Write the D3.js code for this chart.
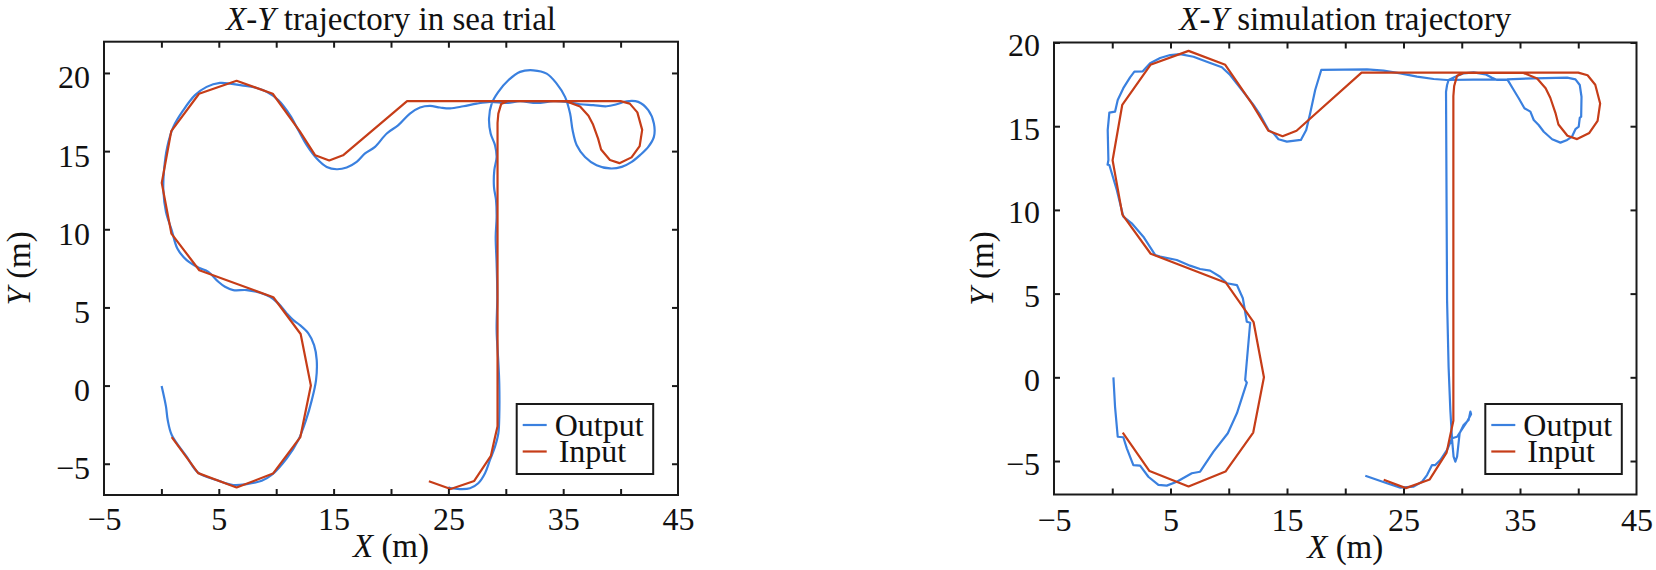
<!DOCTYPE html>
<html><head><meta charset="utf-8">
<script src="https://cdn.jsdelivr.net/npm/d3@7"></script>
<style>
html,body{margin:0;padding:0;background:#fff;}
svg{display:block;}
text{font-family:"Liberation Serif","Times New Roman",Tinos,"DejaVu Serif",serif;fill:#111;}
</style></head>
<body>
<svg id="chart" width="1656" height="570"></svg>
<script>
// ---------- data ----------
const xTickMarks = [0, 5, 10, 15, 20, 25, 30, 35, 40];
const xTickLabels = [-5, 5, 15, 25, 35, 45];
const yTicksSea = [-5, 0, 5, 10, 15, 20];
const yTicksSim = [-5, 0, 5, 10, 15, 20];
const seriesNames = ["Output", "Input"];
const titles = ["trajectory in sea trial", "simulation trajectory"];

// reference (input) path, shared by both panels
const inputXY = [[0.9,-3.3],[3.2,-5.6],[6.55,-6.52],[9.72,-5.63],[12.1,-3.3],[13.02,0],[12.13,3.3],[9.75,5.65],[3.3,7.38],[0.87,9.72],[0.03,12.97],[0.86,16.28],[3.28,18.67],[6.55,19.5],[9.7,18.67],[12.03,16.3],[13.4,14.73],[14.62,14.4],[15.82,14.73],[21.4,18.2],[40.0,18.2],[40.8,18.04],[41.46,17.48],[41.88,16.36],[41.66,15.32],[40.95,14.6],[39.9,14.23],[39.07,14.43],[38.3,15.1],[38.04,15.8],[37.6,16.7],[37.2,17.27],[36.47,17.85],[35.3,18.18],[30.2,18.2],[29.6,18.02],[29.35,17.4],[29.28,16.8],[29.28,-2.6],[29.0,-3.5],[28.7,-4.5],[27.25,-6.1],[25.2,-6.62],[23.3,-6.12]];

// sea-trial output path
const outputSea = [[0.02,-0.03],[0.4,-1.35],[0.55,-2.2],[0.9,-3.16],[2.2,-4.55],[3.2,-5.57],[4.8,-6.04],[6.26,-6.36],[7.43,-6.3],[8.74,-6.09],[9.6,-5.72],[10.92,-4.65],[11.93,-3.48],[12.6,-2.2],[13.1,-0.93],[13.47,0.35],[13.53,1.63],[13.3,2.59],[12.8,3.34],[12.07,3.87],[11.49,4.19],[10.92,4.62],[10.18,5.26],[9.46,5.68],[8.59,5.94],[7.43,6.11],[6.26,6.11],[5.54,6.32],[4.96,6.64],[4.09,7.28],[3.21,7.56],[2.2,8.03],[1.39,8.77],[0.9,9.94],[0.4,11.11],[0.17,12.5],[0.23,13.78],[0.51,15.27],[1.04,16.55],[1.91,17.62],[2.93,18.58],[3.94,19.11],[5.1,19.36],[5.98,19.32],[6.99,19.21],[8.15,19.07],[9.17,18.79],[10.18,18.26],[11.2,17.3],[11.93,16.34],[12.66,15.38],[13.53,14.53],[14.4,13.99],[15.27,13.84],[16.14,13.95],[17.01,14.31],[17.74,14.85],[18.61,15.27],[19.63,16.13],[20.64,16.66],[21.65,17.4],[22.53,17.79],[23.4,17.89],[24.27,17.79],[25.14,17.73],[26.3,17.87],[27.46,18.04],[28.62,18.15],[30.07,18.08],[31.24,18.19],[32.69,18.08],[34.14,18.19],[35.3,18.15],[36.46,18.0],[37.62,17.94],[38.79,17.87],[39.66,18.0],[40.53,18.19],[41.54,18.15],[42.41,17.62],[42.9,16.77],[42.9,15.91],[42.41,15.27],[41.69,14.74],[40.97,14.31],[40.1,13.99],[39.08,13.89],[37.91,14.1],[36.9,14.63],[36.18,15.38],[35.82,16.34],[35.6,17.4],[35.16,18.47],[34.43,19.32],[33.56,19.96],[32.4,20.17],[31.24,20.07],[30.22,19.53],[29.35,18.79],[28.77,18.04],[28.54,17.09],[28.68,16.13],[29.06,15.38],[29.2,14.63],[29.0,13.78],[28.97,12.71],[29.15,11.86],[29.2,10.79],[29.12,9.51],[29.2,7.81],[29.26,5.68],[29.2,3.55],[29.35,1.5],[29.43,0.14],[29.43,-2.0],[29.35,-3.06],[29.06,-3.91],[28.62,-4.76],[28.19,-5.61],[27.6,-6.25],[26.88,-6.57],[26.0,-6.62],[25.29,-6.57],[25.0,-6.5]];

// simulation output path
const outputSim = [[0.1,0],[0.24,-1.76],[0.47,-3.55],[0.95,-3.58],[1.25,-4.24],[1.81,-5.24],[2.39,-5.28],[3.1,-5.94],[3.96,-6.43],[4.68,-6.47],[5.54,-6.24],[6.83,-5.73],[7.54,-5.64],[8.69,-4.44],[9.92,-3.34],[10.7,-2.15],[11.55,-0.32],[11.41,-0.16],[11.84,3.26],[11.55,3.32],[11.21,4.72],[10.7,5.51],[9.84,5.62],[9.26,6.01],[8.4,6.37],[7.54,6.47],[6.68,6.67],[5.54,7.01],[4.11,7.21],[3.68,7.31],[2.67,8.4],[1.67,9.2],[0.95,9.6],[0.39,11.19],[-0.25,12.68],[-0.4,12.7],[-0.33,12.98],[-0.39,14.77],[-0.25,15.81],[0.24,15.87],[0.47,16.57],[0.95,17.27],[1.53,17.92],[1.9,18.26],[2.62,18.28],[3.25,18.76],[4.11,19.07],[4.97,19.25],[5.83,19.31],[6.97,19.15],[8.12,18.85],[9.41,18.52],[10.12,18.06],[11.13,17.16],[12.12,16.27],[12.7,15.67],[13.41,14.77],[13.84,14.58],[14.27,14.22],[14.99,14.08],[16.19,14.18],[16.65,14.77],[16.99,15.77],[17.42,17.16],[17.94,18.36],[21.87,18.4],[23.29,18.32],[24.73,18.16],[26.16,17.96],[27.59,17.82],[28.74,17.76],[31.0,17.78],[33.89,17.8],[36.18,17.86],[39.05,17.9],[39.76,17.8],[40.13,17.46],[40.28,16.76],[40.25,15.57],[40.13,15.5],[40.04,14.97],[39.76,14.82],[39.47,14.38],[39.05,14.18],[38.47,14.02],[37.76,14.22],[37.04,14.67],[36.6,15.07],[36.18,15.37],[35.89,15.87],[35.38,16.07],[34.89,16.67],[34.46,17.16],[34.03,17.66],[33.89,17.78],[33.03,17.76],[32.6,17.9],[32.03,18.1],[31.02,18.22],[30.16,18.16],[29.45,17.96],[28.87,17.76],[28.74,17.46],[28.65,17.06],[28.7,10],[28.74,4.62],[28.87,0.63],[29.02,-1.95],[29.17,-3.74],[29.3,-4.74],[29.45,-5.04],[29.6,-4.74],[29.82,-3.34],[30.16,-2.85],[30.59,-2.55],[30.74,-2.05],[30.8,-2.2],[30.45,-2.65],[29.6,-3.55],[29.17,-3.64],[28.74,-4.34],[28.16,-4.94],[27.73,-5.24],[27.45,-5.24],[27.02,-5.84],[26.59,-6.24],[25.87,-6.53],[24.73,-6.59],[23.58,-6.33],[21.72,-5.88]];

// ---------- drawing ----------
const BLUE = "#3a80df", RED = "#c63d18", AX = "#1a1a1a";
const FONT = '"Liberation Serif","Times New Roman",Tinos,"DejaVu Serif",serif';
const svg = d3.select("#chart").attr("font-family", FONT);

const panels = [
  {x0:104, x1:678, y0:41.7, y1:495, yDom:[-7,22], yTicks:yTicksSea, out:outputSea, smooth:true,
   title:titles[0], yLabX:30, yTickDy:15, xTickBase:530, xLabBase:557, legX:516.7},
  {x0:1054, x1:1636.5, y0:42.5, y1:494.5, yDom:[-7,20], yTicks:yTicksSim, out:outputSim, smooth:false,
   title:titles[1], yLabX:993, yTickDy:13, xTickBase:531, xLabBase:558, legX:1485.3}
];

panels.forEach(p => {
  const x = d3.scaleLinear().domain([-5,45]).range([p.x0,p.x1]);
  const y = d3.scaleLinear().domain(p.yDom).range([p.y1,p.y0]);
  const g = svg.append("g");
  const w = p.x1 - p.x0, h = p.y1 - p.y0;

  const cid = "clip" + p.x0;
  svg.append("clipPath").attr("id", cid).append("rect")
    .attr("x", p.x0).attr("y", p.y0).attr("width", w).attr("height", h);

  const lineIn = d3.line().x(d=>x(d[0])).y(d=>y(d[1]));
  const lineOut = d3.line().x(d=>x(d[0])).y(d=>y(d[1]))
     .curve(p.smooth ? d3.curveCatmullRom.alpha(0.5) : d3.curveLinear);
  const dg = g.append("g").attr("clip-path", `url(#${cid})`);
  dg.append("path").attr("d", lineOut(p.out)).attr("fill","none")
    .attr("stroke", BLUE).attr("stroke-width", 2.2).attr("stroke-linejoin","round");
  dg.append("path").attr("d", lineIn(inputXY)).attr("fill","none")
    .attr("stroke", RED).attr("stroke-width", 2.2).attr("stroke-linejoin","round");

  const tickStyle = sel => { sel.select(".domain").remove();
    sel.selectAll("line").attr("stroke", AX).attr("stroke-width", 2); sel.selectAll("text").remove(); };
  g.append("g").attr("transform",`translate(0,${p.y1})`)
    .call(d3.axisBottom(x).tickValues(xTickMarks).tickSize(-6)).call(tickStyle);
  g.append("g").attr("transform",`translate(0,${p.y0})`)
    .call(d3.axisTop(x).tickValues(xTickMarks).tickSize(-6)).call(tickStyle);
  g.append("g").attr("transform",`translate(${p.x0},0)`)
    .call(d3.axisLeft(y).tickValues(p.yTicks).tickSize(-6)).call(tickStyle);
  g.append("g").attr("transform",`translate(${p.x1},0)`)
    .call(d3.axisRight(y).tickValues(p.yTicks).tickSize(-6)).call(tickStyle);

  const xl = g.append("g").attr("transform",`translate(0,${p.y1})`)
    .call(d3.axisBottom(x).tickValues(xTickLabels).tickSize(0));
  xl.attr("font-family", FONT);
  xl.select(".domain").remove();
  xl.selectAll("text").attr("y", p.xTickBase - p.y1).attr("dy", 0)
    .attr("font-size", 32).attr("fill","#111");
  const yl = g.append("g").attr("transform",`translate(${p.x0},0)`)
    .call(d3.axisLeft(y).tickValues(p.yTicks).tickSize(0));
  yl.attr("font-family", FONT);
  yl.select(".domain").remove();
  yl.selectAll("text").attr("x", -14).attr("dy", p.yTickDy)
    .attr("font-size", 32).attr("fill","#111");

  g.append("rect").attr("x", p.x0).attr("y", p.y0).attr("width", w).attr("height", h)
    .attr("fill","none").attr("stroke", AX).attr("stroke-width", 2);

  const cx = (p.x0 + p.x1) / 2;
  const t = g.append("text").attr("x", cx).attr("y", 29.5).attr("text-anchor","middle").attr("font-size", 33);
  t.append("tspan").attr("font-style","italic").text("X");
  t.append("tspan").text("-");
  t.append("tspan").attr("font-style","italic").text("Y");
  t.append("tspan").text(" " + p.title);

  const xlab = g.append("text").attr("x", cx).attr("y", p.xLabBase).attr("text-anchor","middle").attr("font-size", 33);
  xlab.append("tspan").attr("font-style","italic").text("X");
  xlab.append("tspan").text(" (m)");
  const cy = (p.y0 + p.y1) / 2;
  const ylab = g.append("text").attr("transform",`translate(${p.yLabX},${cy}) rotate(-90)`)
    .attr("text-anchor","middle").attr("font-size", 33);
  ylab.append("tspan").attr("font-style","italic").text("Y");
  ylab.append("tspan").text(" (m)");

  const lg = g.append("g");
  lg.append("rect").attr("x", p.legX).attr("y", 404).attr("width", 136.5).attr("height", 70)
    .attr("fill","#fff").attr("stroke", AX).attr("stroke-width", 2);
  [BLUE, RED].forEach((c, i) => {
    const ly = 425 + i * 26.5;
    lg.append("line").attr("x1", p.legX + 6).attr("x2", p.legX + 30).attr("y1", ly).attr("y2", ly)
      .attr("stroke", c).attr("stroke-width", 2.2);
    lg.append("text").attr("x", p.legX + 38 + (i === 1 ? 4 : 0)).attr("y", ly + 10.5)
      .attr("font-size", 32).text(seriesNames[i]);
  });
});
</script>
</body></html>
